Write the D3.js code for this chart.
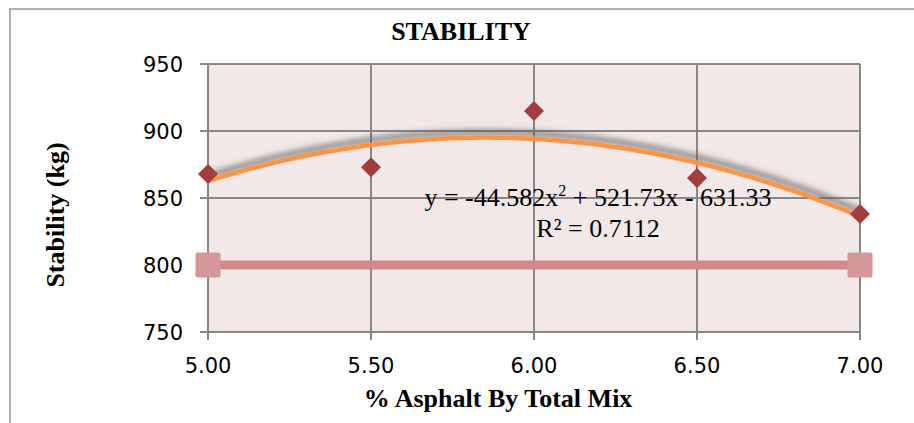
<!DOCTYPE html>
<html>
<head>
<meta charset="utf-8">
<script src="https://cdn.jsdelivr.net/npm/d3@7"></script>
<style>
  body { margin: 0; background: #fff; }
  svg { display: block; }
</style>
</head>
<body>
<svg id="chart" width="914" height="423"></svg>
<script>
// measured stability per asphalt content
const asphaltPct = [5.0, 5.5, 6.0, 6.5, 7.0];
const stabilityKg = [868, 873, 915, 865, 838];

// minimum spec line (800 kg)
const specX = [5.0, 7.0];
const specY = [800, 800];

// polynomial trendline (order 2) as reported on chart: a*x^2 + b*x + c
const trendCoef = [-44.582, 521.73, -631.33];
const trendLabel = "y = -44.582x";
const trendLabelTail = " + 521.73x - 631.33";
const r2Label = "R\u00b2 = 0.7112";

const xTicks = [5.0, 5.5, 6.0, 6.5, 7.0];
const yTicks = [750, 800, 850, 900, 950];

const margin = { top: 64, right: 54, bottom: 91, left: 208 },
	width = 914 - margin.left - margin.right,
	height = 423 - margin.top - margin.bottom;

const svg = d3.select("#chart");

// outer chart frame (bottom/right run off the picture)
svg.append("rect")
	.attr("x", 10).attr("y", 9)
	.attr("width", 940).attr("height", 440)
	.attr("fill", "none")
	.attr("stroke", "#979797")
	.attr("stroke-width", 1.5);

const defs = svg.append("defs");
const shadow = defs.append("filter")
	.attr("id", "trendShadow")
	.attr("x", "-10%").attr("y", "-50%")
	.attr("width", "120%").attr("height", "200%");
shadow.append("feDropShadow")
	.attr("dx", 1).attr("dy", -5)
	.attr("stdDeviation", 3)
	.attr("flood-color", "#5a5a5a")
	.attr("flood-opacity", 0.9);

const g = svg.append("g")
	.attr("transform", `translate(${margin.left},${margin.top})`);

const x = d3.scaleLinear().domain([5, 7]).range([0, width]);
const y = d3.scaleLinear().domain([750, 950]).range([height, 0]);

// plot area
g.append("rect")
	.attr("width", width).attr("height", height)
	.attr("fill", "#f2e8e8");

// gridlines
g.append("g")
	.selectAll("line")
	.data(yTicks).enter()
	.append("line")
	.attr("x1", -8).attr("x2", width)
	.attr("y1", d => y(d)).attr("y2", d => y(d))
	.attr("stroke", "#878787").attr("stroke-width", 2);

g.append("g")
	.selectAll("line")
	.data(xTicks).enter()
	.append("line")
	.attr("y1", 0).attr("y2", height + 8)
	.attr("x1", d => x(d)).attr("x2", d => x(d))
	.attr("stroke", "#878787").attr("stroke-width", 2);

// tick labels
g.append("g")
	.selectAll("text")
	.data(yTicks).enter()
	.append("text")
	.attr("x", -25)
	.attr("y", d => y(d))
	.attr("dy", "0.36em")
	.attr("text-anchor", "end")
	.style("font", "21px 'DejaVu Sans'")
	.text(d => d);

g.append("g")
	.selectAll("text")
	.data(xTicks).enter()
	.append("text")
	.attr("x", d => x(d))
	.attr("y", height + 41)
	.attr("text-anchor", "middle")
	.style("font", "21px 'DejaVu Sans'")
	.text(d3.format(".2f"));

// spec line with square ends
const specData = specX.map((v, i) => [v, specY[i]]);
g.append("path")
	.datum(specData)
	.attr("d", d3.line().x(d => x(d[0])).y(d => y(d[1])))
	.attr("stroke", "#d08a8c")
	.attr("stroke-width", 9)
	.attr("fill", "none");

g.selectAll("rect.spec")
	.data(specData).enter()
	.append("rect")
	.attr("class", "spec")
	.attr("x", d => x(d[0]) - 12.5)
	.attr("y", d => y(d[1]) - 12.5)
	.attr("width", 25).attr("height", 25)
	.attr("rx", 2)
	.attr("fill", "#d6979a");

// trendline
const curveX = d3.range(0, 101).map(i => 5 + i * 0.02);
const trend = v => trendCoef[0] * v * v + trendCoef[1] * v + trendCoef[2];
g.append("path")
	.datum(curveX)
	.attr("d", d3.line().x(d => x(d)).y(d => y(trend(d))).curve(d3.curveMonotoneX))
	.attr("stroke", "#f79646")
	.attr("stroke-width", 4.5)
	.attr("fill", "none")
	.attr("filter", "url(#trendShadow)");

// data points (diamonds)
g.selectAll("path.pt")
	.data(asphaltPct.map((v, i) => [v, stabilityKg[i]])).enter()
	.append("path")
	.attr("class", "pt")
	.attr("d", d3.symbol(d3.symbolSquare, 200))
	.attr("transform", d => `translate(${x(d[0])},${y(d[1])}) rotate(45)`)
	.attr("fill", "#a23f3c");

// trendline equation
const eq = svg.append("text")
	.attr("x", 598).attr("y", 206)
	.attr("text-anchor", "middle")
	.style("font", "26px 'Liberation Serif'")
	.style("fill", "#000");
eq.append("tspan").text(trendLabel);
eq.append("tspan").attr("dy", -10).style("font-size", "16px").text("2");
eq.append("tspan").attr("dy", 10).text(trendLabelTail);

svg.append("text")
	.attr("x", 598).attr("y", 237)
	.attr("text-anchor", "middle")
	.style("font", "26px 'Liberation Serif'")
	.text(r2Label);

// titles
svg.append("text")
	.attr("x", 461).attr("y", 40)
	.attr("text-anchor", "middle")
	.style("font", "bold 26px 'Liberation Serif'")
	.text("STABILITY");

svg.append("text")
	.attr("x", 498).attr("y", 407)
	.attr("text-anchor", "middle")
	.style("font", "bold 26px 'Liberation Serif'")
	.text("% Asphalt By Total Mix");

svg.append("text")
	.attr("transform", "translate(64,215) rotate(-90)")
	.attr("text-anchor", "middle")
	.style("font", "bold 26px 'Liberation Serif'")
	.text("Stability (kg)");
</script>
</body>
</html>
